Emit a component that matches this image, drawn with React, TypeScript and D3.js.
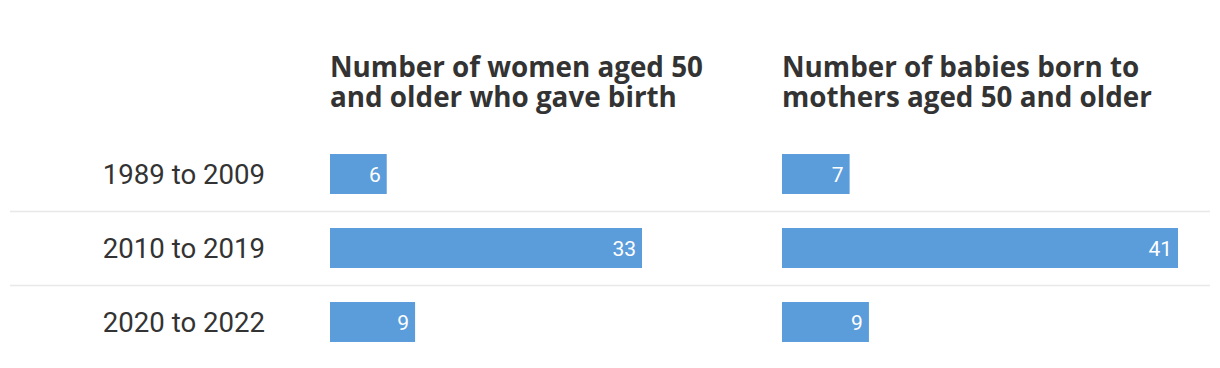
import React from 'react';
import * as d3 from 'd3';

const periods = ['1989 to 2009', '2010 to 2019', '2020 to 2022'];
const womenValues = [6, 33, 9];
const babiesValues = [7, 41, 9];
const panelTitles = [
  ['Number of women aged 50', 'and older who gave birth'],
  ['Number of babies born to', 'mothers aged 50 and older'],
];

const App = () => {
  const width = 1220;
  const height = 368;
  const barColor = '#5b9cdb';
  const textColor = '#333333';

  const y = d3.scaleBand()
    .domain(periods)
    .range([137, 359])
    .paddingInner(0.46)
    .paddingOuter(0.23);

  const panels = [
    { x0: 330, values: womenValues, title: panelTitles[0], range: 312 },
    { x0: 782, values: babiesValues, title: panelTitles[1], range: 396 },
  ];

  const step = y.step();

  return (
    <svg width={width} height={height} style={{ position: 'absolute', left: 0, top: 0 }}>
      <rect width={width} height={height} fill="#fff" />
      {periods.slice(1).map((p, i) => (
        <line key={'sep' + i} x1={10} x2={1210}
          y1={Math.round(y(p)! + y.bandwidth() / 2 - step / 2) + 0.5}
          y2={Math.round(y(p)! + y.bandwidth() / 2 - step / 2) + 0.5}
          stroke="#e8e8e8" strokeWidth={1.5} />
      ))}
      {periods.map((p) => (
        <text key={p} x={265} y={y(p)! + y.bandwidth() / 2} dy="0.36em"
          textAnchor="end" fontFamily="Roboto, sans-serif" fontSize={27.6}
          fill={textColor}>{p}</text>
      ))}
      {panels.map((panel, pi) => {
        const x = d3.scaleLinear()
          .domain([0, d3.max(panel.values)!])
          .range([0, panel.range]);
        return (
          <g key={pi} transform={'translate(' + panel.x0 + ',0)'}>
            {panel.title.map((t, ti) => (
              <text key={ti} x={0} y={76.5 + ti * 30.5} fontFamily="'Open Sans', sans-serif"
                fontWeight={700} fontSize={27.8} fill={textColor}>{t}</text>
            ))}
            {panel.values.map((v, i) => (
              <g key={i}>
                <rect x={0} y={y(periods[i])} width={x(v)} height={y.bandwidth()} fill={barColor} />
                <text x={x(v) - 6} y={y(periods[i])! + y.bandwidth() / 2} dy="0.36em"
                  textAnchor="end" fontFamily="Roboto, sans-serif" fontSize={21}
                  fill="#fff">{v}</text>
              </g>
            ))}
          </g>
        );
      })}
    </svg>
  );
};

export default App;
